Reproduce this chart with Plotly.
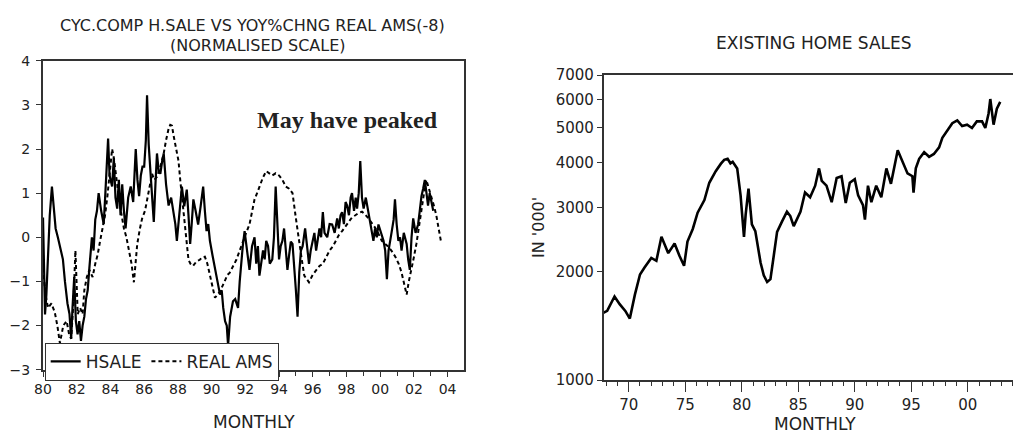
import plotly.graph_objects as go
from datetime import datetime, timedelta

# ---------------- Left chart data (normalised scale) ----------------
hsale_t = [1980.0,1980.05,1980.12,1980.2,1980.3,1980.4,1980.53,1980.65,1980.75,1980.88,
           1981.0,1981.18,1981.3,1981.45,1981.57,1981.67,1981.75,1981.85,1981.95,1982.05,
           1982.15,1982.25,1982.35,1982.45,1982.55,1982.65,1982.75,1982.9,1983.0,1983.1,
           1983.2,1983.3,1983.45,1983.6,1983.7,1983.86,1983.95,1984.1,1984.2,1984.3,
           1984.4,1984.5,1984.6,1984.7,1984.8,1984.9,1985.05,1985.2,1985.35,1985.5,
           1985.6,1985.7,1985.8,1985.9,1986.0,1986.1,1986.17,1986.27,1986.37,1986.47,
           1986.57,1986.67,1986.76,1986.86,1986.96,1987.06,1987.16,1987.3,1987.45,1987.6,
           1987.75,1987.85,1987.94,1988.1,1988.24,1988.38,1988.53,1988.63,1988.73,1988.82,
           1988.92,1989.05,1989.2,1989.35,1989.5,1989.6,1989.7,1989.8,1989.9,1990.05,
           1990.2,1990.35,1990.5,1990.6,1990.69,1990.8,1990.9,1990.98,1991.1,1991.27,
           1991.4,1991.57,1991.67,1991.76,1991.85,1991.96,1992.1,1992.25,1992.4,1992.55,
           1992.65,1992.75,1992.84,1992.95,1993.05,1993.15,1993.24,1993.35,1993.45,1993.6,
           1993.7,1993.8,1993.9,1994.0,1994.1,1994.2,1994.3,1994.4,1994.5,1994.6,
           1994.7,1994.8,1994.9,1995.0,1995.1,1995.2,1995.3,1995.4,1995.55,1995.65,
           1995.78,1995.88,1995.98,1996.1,1996.2,1996.27,1996.4,1996.5,1996.6,1996.7,
           1996.86,1997.0,1997.15,1997.3,1997.45,1997.55,1997.65,1997.74,1997.85,1997.95,
           1998.04,1998.15,1998.25,1998.33,1998.45,1998.55,1998.63,1998.73,1998.82,1998.92,
           1999.02,1999.15,1999.31,1999.45,1999.6,1999.7,1999.8,1999.9,2000.05,2000.2,
           2000.3,2000.4,2000.5,2000.6,2000.69,2000.8,2000.88,2000.98,2001.08,2001.18,
           2001.27,2001.4,2001.57,2001.66,2001.76,2001.86,2001.96,2002.1,2002.25,2002.35,
           2002.45,2002.55,2002.65,2002.75,2002.84,2002.94,2003.04,2003.15]
hsale_v = [0.45,-0.9,-1.75,-1.3,-0.4,0.5,1.15,0.6,0.2,0.0,
           -0.2,-0.5,-1.0,-1.5,-1.74,-2.3,-1.6,-0.9,-1.9,-2.2,
           -1.9,-2.35,-2.0,-1.8,-1.4,-1.2,-0.7,0.0,-0.3,0.4,
           0.6,1.0,0.6,0.3,1.0,2.24,1.4,1.15,1.8,0.9,
           0.65,1.3,0.5,1.2,0.6,0.2,0.9,1.15,0.8,2.0,
           1.3,0.93,1.4,1.6,1.6,2.2,3.22,2.1,1.5,1.0,
           0.35,1.2,1.9,1.5,1.44,1.7,1.9,1.2,0.72,0.9,
           0.58,0.3,-0.08,0.6,1.15,0.7,1.08,0.5,-0.15,0.3,
           0.86,0.6,0.29,0.7,1.15,0.6,0.14,0.3,-0.08,-0.4,
           -0.74,-1.0,-1.3,-1.2,-1.6,-1.9,-2.0,-2.45,-1.8,-1.45,
           -1.4,-1.6,-1.0,-0.5,-0.2,0.14,-0.3,-0.74,-0.2,0.0,
           -0.6,-0.2,-0.87,-0.6,-0.3,-0.5,-0.08,-0.2,-0.6,-0.5,
           0.0,1.15,0.2,-0.5,-0.2,-0.08,0.2,-0.3,-0.74,-0.4,
           -0.1,-0.15,-0.6,-1.2,-1.8,-0.8,-0.3,-0.2,0.2,-0.2,
           -0.6,-0.3,-0.15,0.1,-0.3,-0.15,0.2,0.0,0.57,0.1,
           0.0,0.3,0.29,0.1,0.43,0.2,0.5,0.57,0.3,0.8,
           0.72,0.5,0.9,1.0,0.6,0.9,0.65,1.0,1.73,0.9,
           0.65,0.9,0.58,0.3,-0.08,0.2,0.0,0.29,0.1,-0.08,
           -0.3,-0.95,-0.3,0.0,0.14,0.4,0.86,0.3,-0.08,0.0,
           -0.3,0.1,-0.15,-0.5,-0.74,0.0,0.43,0.1,0.29,0.6,
           0.93,1.1,1.3,1.0,0.72,1.0,0.79,0.6]

ams_t = [1980.0,1980.15,1980.3,1980.5,1980.7,1980.85,1981.0,1981.2,1981.4,1981.55,
         1981.67,1981.8,1981.92,1982.0,1982.06,1982.2,1982.35,1982.45,1982.6,1982.75,
         1982.94,1983.1,1983.24,1983.38,1983.53,1983.68,1983.82,1983.95,1984.1,1984.2,
         1984.31,1984.4,1984.5,1984.65,1984.8,1984.95,1985.1,1985.25,1985.39,1985.5,
         1985.59,1985.75,1985.88,1986.05,1986.18,1986.32,1986.47,1986.6,1986.76,1986.96,
         1987.16,1987.3,1987.45,1987.55,1987.65,1987.75,1987.84,1987.94,1988.04,1988.14,
         1988.24,1988.34,1988.43,1988.53,1988.63,1988.75,1988.9,1989.1,1989.3,1989.45,
         1989.6,1989.75,1989.9,1990.05,1990.2,1990.35,1990.5,1990.65,1990.8,1990.95,
         1991.08,1991.28,1991.47,1991.67,1991.86,1992.05,1992.25,1992.4,1992.55,1992.7,
         1992.84,1993.04,1993.24,1993.4,1993.6,1993.8,1994.0,1994.2,1994.4,1994.6,
         1994.8,1995.0,1995.2,1995.35,1995.5,1995.65,1995.78,1996.0,1996.2,1996.4,
         1996.6,1996.8,1997.0,1997.2,1997.35,1997.55,1997.74,1997.95,1998.14,1998.33,
         1998.53,1998.72,1998.92,1999.1,1999.3,1999.5,1999.7,1999.9,2000.1,2000.3,
         2000.5,2000.7,2000.9,2001.1,2001.27,2001.42,2001.57,2001.7,2001.86,2002.0,
         2002.15,2002.3,2002.45,2002.6,2002.74,2002.9,2003.04,2003.2,2003.33,2003.47,
         2003.6]
ams_v = [-0.7,-1.3,-1.6,-1.5,-1.7,-2.0,-2.4,-2.0,-1.9,-2.2,
         -2.3,-1.5,-0.3,-1.0,-1.74,-1.6,-1.74,-1.2,-0.9,-0.74,
         -0.9,-0.6,-0.4,-0.1,0.2,0.5,0.93,1.5,2.0,1.8,
         1.5,1.2,0.86,0.5,0.2,0.0,-0.3,-0.6,-1.02,-0.5,
         -0.15,0.2,0.43,0.6,0.86,1.1,1.44,1.3,1.37,1.6,
         1.9,2.2,2.46,2.55,2.53,2.3,2.1,1.9,1.73,1.3,
         0.93,0.6,0.29,-0.1,-0.51,-0.6,-0.65,-0.55,-0.51,-0.45,
         -0.44,-0.6,-0.87,-1.1,-1.37,-1.3,-1.23,-1.1,-0.95,-0.85,
         -0.8,-0.65,-0.51,-0.3,-0.08,0.1,0.29,0.55,0.86,1.0,
         1.15,1.35,1.5,1.45,1.4,1.45,1.4,1.3,1.15,1.1,
         1.0,0.43,-0.15,-0.5,-0.87,-0.95,-1.02,-0.85,-0.74,-0.65,
         -0.6,-0.45,-0.3,-0.2,-0.08,0.05,0.14,0.25,0.36,0.45,
         0.5,0.55,0.58,0.52,0.43,0.32,0.22,0.08,-0.08,-0.15,
         -0.22,-0.32,-0.44,-0.6,-0.8,-1.05,-1.3,-1.0,-0.74,-0.45,
         -0.15,0.25,0.65,1.0,1.3,1.1,0.93,0.7,0.5,0.2,
         -0.08]

left_yticks = [-3,-2,-1,0,1,2,3,4]

# ---------------- Right chart data (existing home sales, '000) ----------------
ehs_t = [1967.6,1968.1,1968.75,1969.2,1969.7,1970.1,1970.55,1971.0,1971.4,1972.0,
         1972.45,1972.9,1973.5,1974.06,1974.5,1974.9,1975.2,1975.67,1976.1,1976.7,
         1977.13,1977.7,1978.16,1978.45,1978.75,1979.0,1979.2,1979.6,1979.9,1980.2,
         1980.35,1980.6,1980.9,1981.2,1981.67,1981.95,1982.25,1982.54,1982.83,1983.13,
         1983.57,1984.0,1984.3,1984.6,1985.2,1985.6,1986.05,1986.5,1986.84,1987.08,
         1987.5,1987.96,1988.4,1988.83,1989.2,1989.56,1990.0,1990.3,1990.73,1990.9,
         1991.17,1991.47,1991.9,1992.35,1992.8,1993.2,1993.8,1994.24,1994.67,1995.1,
         1995.2,1995.4,1995.7,1996.14,1996.58,1997.0,1997.46,1997.75,1998.2,1998.63,
         1999.07,1999.5,1999.94,2000.37,2000.8,2001.26,2001.55,2001.84,2001.99,2002.28,
         2002.57,2002.87]
ehs_v = [1528,1556,1706,1624,1556,1482,1726,1963,2051,2182,
         2142,2496,2249,2392,2208,2075,2422,2624,2912,3155,
         3524,3795,3981,4080,4105,3990,4030,3862,3251,2496,
         2877,3396,2704,2589,2115,1953,1871,1905,2208,2576,
         2754,2931,2850,2673,2931,3311,3212,3459,3862,3565,
         3459,3113,3631,3674,3097,3524,3606,3251,3055,2786,
         3459,3113,3459,3212,3862,3500,4335,4030,3741,3674,
         3311,3862,4105,4285,4159,4234,4416,4695,4933,5152,
         5248,5058,5105,4999,5212,5212,4999,5483,6012,5105,
         5649,5902]

right_yticks = [1000,2000,3000,4000,5000,6000,7000]


def to_date(y):
    """Convert a decimal year to an ISO date string for the date axes."""
    yr = int(y)
    d = datetime(yr, 1, 1) + timedelta(days=(y - yr) * 365.25)
    return d.strftime("%Y-%m-%d")

# ---------------- Figure ----------------
W, H = 1013, 441
def px(x):
    return x / W
def py(y):
    return 1 - y / H

FONT = "DejaVu Sans, Verdana, sans-serif"
AXC = "#333333"
LEFT_X = [px(34), px(459)]
LEFT_Y = [py(376), py(54)]
RIGHT_X = [px(600), 1.0]
RIGHT_Y = [py(387), py(69)]
LEFT_RANGE = ["1979-12-25", "2004-12-20"]
RIGHT_RANGE = ["1967-10-15", "2004-01-01"]

fig = go.Figure()
fig.add_trace(go.Scatter(x=[to_date(t) for t in hsale_t], y=hsale_v, mode="lines", name="HSALE",
                         line=dict(color="black", width=2.2), xaxis="x", yaxis="y"))
fig.add_trace(go.Scatter(x=[to_date(t) for t in ams_t], y=ams_v, mode="lines", name="REAL AMS",
                         line=dict(color="black", width=2, dash="4px,3px"), xaxis="x", yaxis="y"))
fig.add_trace(go.Scatter(x=[to_date(t) for t in ehs_t], y=ehs_v, mode="lines",
                         name="EXISTING HOME SALES",
                         line=dict(color="black", width=2.6), xaxis="x2", yaxis="y2",
                         showlegend=False))
# empty carriers so the overlaid yearly-tick axes get drawn
fig.add_trace(go.Scatter(x=[], y=[], xaxis="x3", yaxis="y", showlegend=False, hoverinfo="skip"))
fig.add_trace(go.Scatter(x=[], y=[], xaxis="x4", yaxis="y2", showlegend=False, hoverinfo="skip"))

tickfont_l = dict(family=FONT, size=14, color="#222")
tickfont_r = dict(family=FONT, size=15, color="#222")

def ann(text, x, y, size=17, family=FONT, angle=0):
    return dict(text=text, x=px(x), y=py(y), xref="paper", yref="paper", showarrow=False,
                xanchor="center", yanchor="middle", textangle=angle,
                font=dict(family=family, size=size, color="#222"), align="center")

fig.update_layout(
    width=W, height=H,
    margin=dict(l=0, r=0, t=0, b=0),
    paper_bgcolor="white", plot_bgcolor="white",
    showlegend=True,
    legend=dict(orientation="h", x=px(36), y=py(348), xanchor="left", yanchor="top",
                bordercolor=AXC, borderwidth=1, bgcolor="white",
                font=dict(family=FONT, size=17, color="#222"),
                itemwidth=30, tracegroupgap=0),
    xaxis=dict(domain=LEFT_X, type="date", range=LEFT_RANGE,
               tick0="1980-01-01", dtick="M24", tickformat="%y",
               ticks="outside", ticklen=6, tickcolor=AXC, tickfont=tickfont_l,
               showline=True, linecolor=AXC, linewidth=1.5, mirror=True,
               showgrid=False, zeroline=False, anchor="y"),
    # yearly minor ticks drawn by an overlaid, label-less axis
    xaxis3=dict(domain=LEFT_X, type="date", range=LEFT_RANGE, overlaying="x",
                tick0="1980-01-01", dtick="M12", showticklabels=False,
                ticks="outside", ticklen=5, tickcolor=AXC, showline=False,
                showgrid=False, zeroline=False, anchor="y", side="bottom"),
    yaxis=dict(domain=LEFT_Y, range=[-3, 4],
               tickvals=left_yticks, ticks="outside", ticklen=5, tickcolor=AXC,
               tickfont=tickfont_l, ticklabelstandoff=3,
               showline=True, linecolor=AXC, linewidth=1.5, mirror=True,
               showgrid=False, zeroline=False, anchor="x"),
    xaxis2=dict(domain=RIGHT_X, type="date", range=RIGHT_RANGE,
                tick0="1970-01-01", dtick="M60", tickformat="%y",
                ticks="outside", ticklen=10, tickcolor=AXC, tickfont=tickfont_r,
                showline=True, linecolor=AXC, linewidth=1.5, mirror=True,
                showgrid=False, zeroline=False, anchor="y2"),
    xaxis4=dict(domain=RIGHT_X, type="date", range=RIGHT_RANGE, overlaying="x2",
                tick0="1970-01-01", dtick="M12", showticklabels=False,
                ticks="outside", ticklen=5, tickcolor=AXC, showline=False,
                showgrid=False, zeroline=False, anchor="y2", side="bottom"),
    yaxis2=dict(domain=RIGHT_Y, type="log", range=[3, 3.8451],
                tickvals=right_yticks, ticktext=[str(v) for v in right_yticks],
                ticks="outside", ticklen=5, tickcolor=AXC, tickfont=tickfont_r,
                showline=True, linecolor=AXC, linewidth=1.5, mirror=False,
                showgrid=False, zeroline=False, anchor="x2"),
    annotations=[
        ann("CYC.COMP H.SALE VS YOY%CHNG REAL AMS(-8)", 246, 17, size=16),
        ann("(NORMALISED SCALE)", 251, 38, size=16),
        ann("<b>May have peaked</b>", 342, 116, size=24,
            family="Liberation Serif, Times New Roman, serif"),
        ann("MONTHLY", 247, 431),
        ann("EXISTING HOME SALES", 812, 35),
        ann("MONTHLY", 813, 433),
        ann("IN '000'", 534, 228, size=16, angle=-90),
    ],
)

fig.write_html("out.html")
